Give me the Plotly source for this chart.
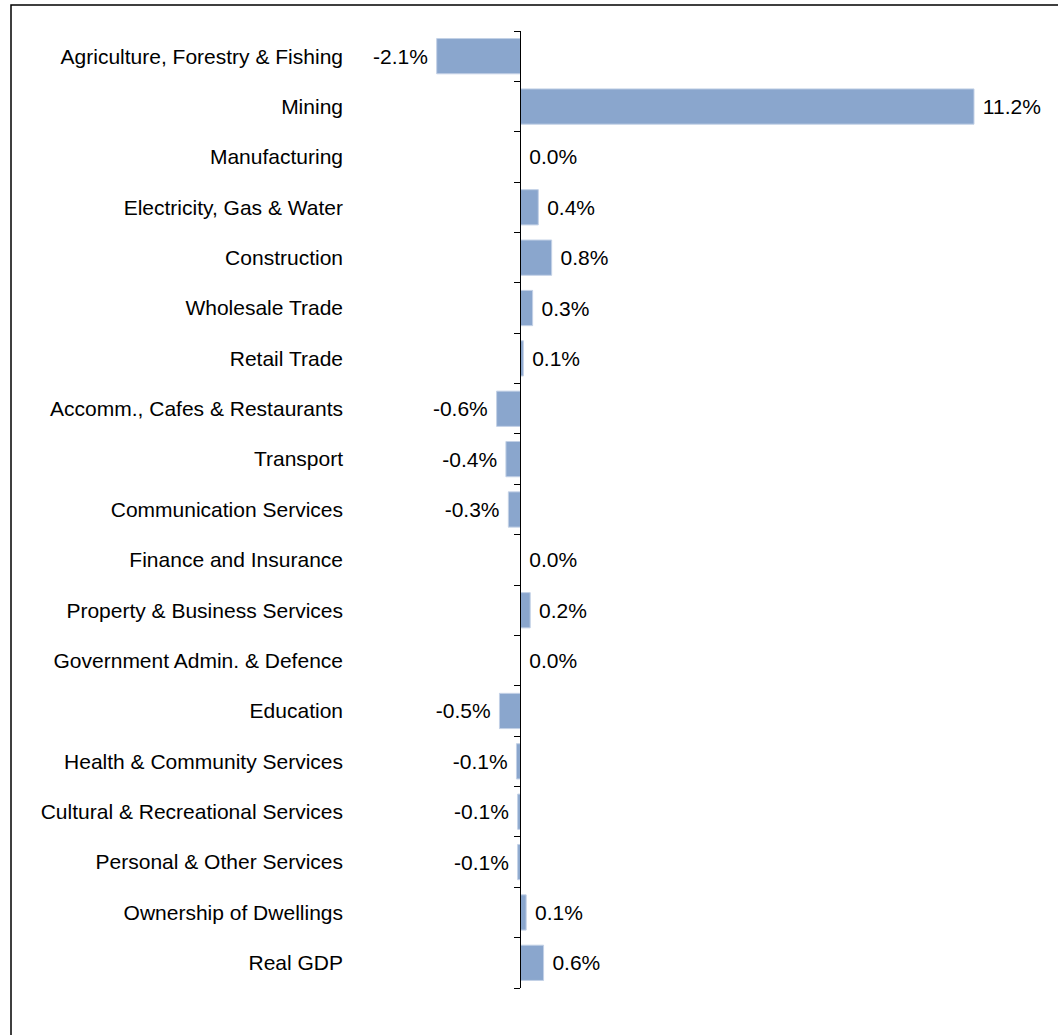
import plotly.graph_objects as go

# Industry contributions (percentage points), top to bottom
INDUSTRIES = [
    'Agriculture, Forestry & Fishing', 'Mining', 'Manufacturing',
    'Electricity, Gas & Water', 'Construction', 'Wholesale Trade',
    'Retail Trade', 'Accomm., Cafes & Restaurants', 'Transport',
    'Communication Services', 'Finance and Insurance',
    'Property & Business Services', 'Government Admin. & Defence',
    'Education', 'Health & Community Services',
    'Cultural & Recreational Services', 'Personal & Other Services',
    'Ownership of Dwellings', 'Real GDP',
]
VALUES = [-2.07, 11.2, 0.0, 0.44, 0.77, 0.3, 0.07, -0.59, -0.36, -0.3,
          0.0, 0.24, 0.0, -0.52, -0.1, -0.07, -0.07, 0.14, 0.57]

FONT = 'Arial, Liberation Sans, sans-serif'
BAR_COLOR = '#8AA6CD'

XMIN, XMAX = -4.26, 12.83
NBSP = '\u00a0'

labels = []
for v in VALUES:
    txt = f'{v:.1f}%'
    labels.append(NBSP + txt if v >= 0 else txt + NBSP)

fig = go.Figure()
fig.add_trace(go.Bar(
    x=VALUES, y=INDUSTRIES, orientation='h',
    marker=dict(color=BAR_COLOR, line=dict(color='#C3D1E6', width=1)),
    width=0.7, text=labels, textposition='outside', constraintext='none',
    textfont=dict(family=FONT, size=21, color='black'),
    cliponaxis=False, hoverinfo='skip',
))

# zero axis with boundary ticks
bounds = [i - 0.5 for i in range(len(INDUSTRIES) + 1)]
fig.add_trace(go.Scatter(x=[0], y=[0], yaxis='y2', mode='markers',
                         marker=dict(opacity=0), hoverinfo='skip', showlegend=False))

fig.update_layout(
    width=1058, height=1035,
    paper_bgcolor='white', plot_bgcolor='white',
    showlegend=False,
    margin=dict(l=348, r=18, t=31, b=47),
    xaxis=dict(range=[XMIN, XMAX], showticklabels=False, showgrid=False,
               zeroline=False, showline=False, ticks=''),
    yaxis=dict(type='category', range=[len(INDUSTRIES) - 0.5, -0.5],
               showgrid=False, zeroline=False, showline=False, ticks='',
               ticklabelstandoff=4,
               tickfont=dict(family=FONT, size=21, color='black')),
    yaxis2=dict(overlaying='y', anchor='free', side='left',
                position=(0 - XMIN) / (XMAX - XMIN),
                range=[len(INDUSTRIES) - 0.5, -0.5],
                tickvals=bounds, ticks='outside', ticklen=6, tickwidth=1,
                tickcolor='black', showticklabels=False, showgrid=False,
                zeroline=False, showline=True, linecolor='black', linewidth=1),
    shapes=[dict(type='rect', xref='paper', yref='paper',
                 x0=(11 - 348) / 692, x1=1.2, y0=-0.2, y1=1 + 26 / 957,
                 line=dict(color='black', width=1.5))],
)

fig.write_html('out.html', config={'displayModeBar': False},
               post_script="document.body.style.margin = '0';")
